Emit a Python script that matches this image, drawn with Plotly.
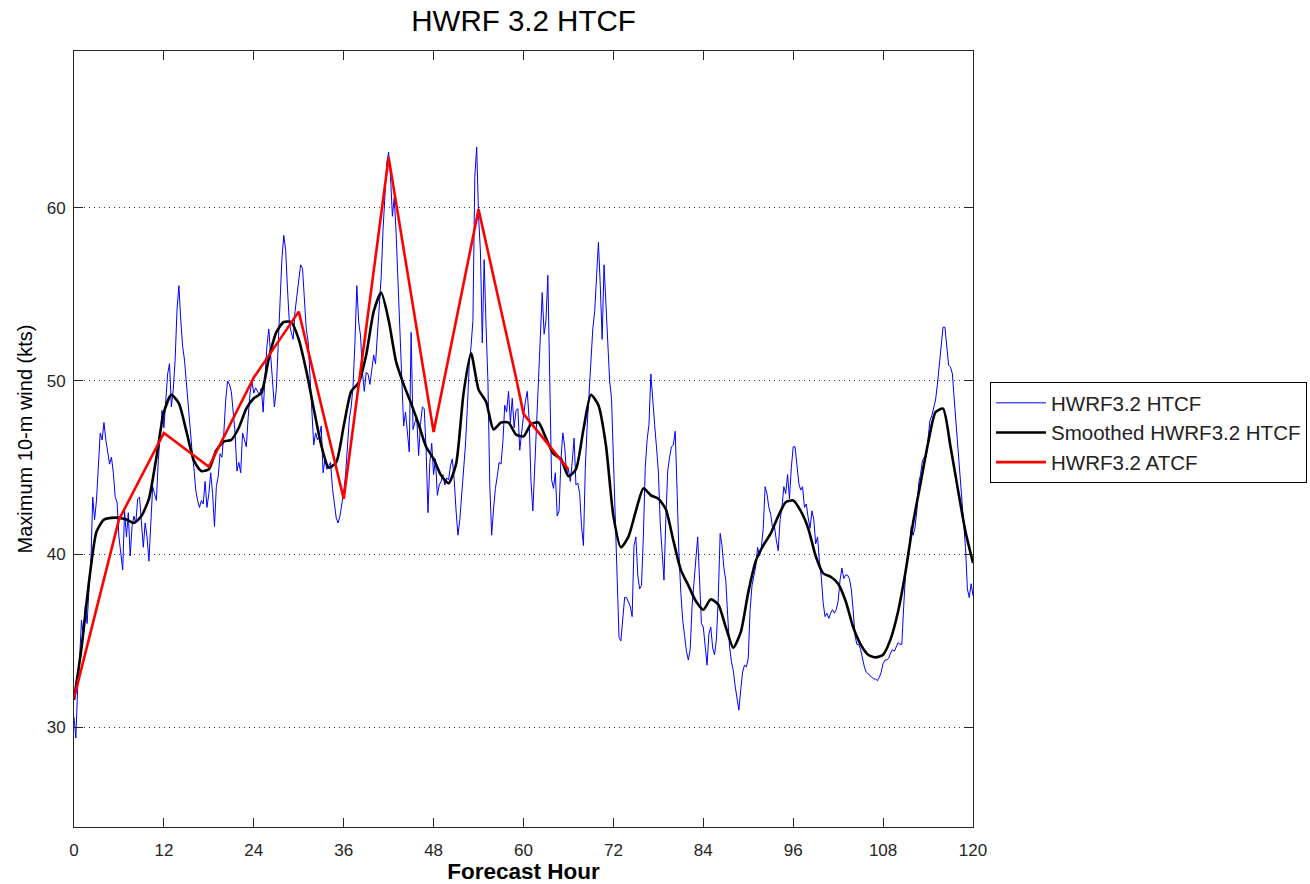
import numpy as np
import plotly.graph_objects as go

# ---------------- data ----------------
blue_step = 0.25
blue_vals = [
    30.6, 29.4, 32.5, 34.0,   # 0
    36.2, 35.3, 37.0, 36.0,   # 1
    38.0, 39.5, 43.3, 42.0,   # 2
    43.1, 44.8, 47.0, 46.6,   # 3
    47.6, 46.6, 46.0, 45.2,   # 4
    45.6, 44.7, 43.3, 43.0,   # 5
    41.0, 40.0, 39.1, 42.5,   # 6
    41.0, 42.4, 39.9, 41.6,   # 7
    42.2, 41.8, 43.2, 43.3,   # 8
    41.6, 40.4, 41.8, 41.0,   # 9
    39.6, 41.5, 43.9, 43.5,   # 10
    43.1, 45.4, 47.0, 48.3,   # 11
    47.3, 48.9, 50.4, 51.0,   # 12
    48.5, 49.5, 51.2, 54.1,   # 13
    55.5, 53.5, 52.0, 51.2,   # 14
    49.9, 48.3, 47.5, 46.0,   # 15
    45.0, 43.7, 43.1, 42.7,   # 16
    43.1, 42.9, 44.2, 42.7,   # 17
    43.5, 44.7, 43.5, 41.6,   # 18
    43.9, 44.5, 45.8, 45.6,   # 19
    47.0, 48.9, 50.0, 49.8,   # 20
    49.4, 48.0, 47.0, 44.8,   # 21
    45.3, 44.7, 47.0, 46.6,   # 22
    46.2, 47.9, 49.3, 50.0,   # 23
    49.3, 49.6, 49.4, 49.2,   # 24
    49.6, 48.2, 50.3, 52.0,   # 25
    53.0, 51.5, 49.6, 48.5,   # 26
    49.5, 52.0, 55.1, 57.0,   # 27
    58.4, 57.6, 55.3, 53.3,   # 28
    52.8, 52.4, 54.0, 54.8,   # 29
    55.7, 56.7, 56.5, 55.0,   # 30
    53.0, 52.3, 50.3, 48.4,   # 31
    46.3, 47.0, 46.6, 46.8,   # 32
    47.4, 44.7, 45.5, 44.9,   # 33
    45.1, 45.3, 43.8, 42.8,   # 34
    42.1, 41.8, 42.2, 42.9,   # 35
    43.6, 44.6, 46.5, 47.8,   # 36
    48.5, 49.7, 52.2, 55.5,   # 37
    53.4, 52.6, 50.5, 49.4,   # 38
    50.5, 50.4, 49.8, 50.8,   # 39
    51.5, 51.0, 52.6, 54.3,   # 40
    56.0, 58.7, 60.8, 62.6,   # 41
    63.2, 61.8, 59.5, 60.6,   # 42
    58.5, 55.8, 53.2, 49.5,   # 43
    47.4, 48.2, 47.0, 45.9,   # 44
    52.8, 47.2, 47.6, 47.9,   # 45
    45.7, 47.5, 48.5, 48.4,   # 46
    46.0, 42.4, 45.3, 46.4,   # 47
    44.6, 45.5, 43.4, 44.0,   # 48
    44.2, 44.6, 44.0, 44.4,   # 49
    44.3, 45.1, 45.5, 44.3,   # 50
    42.5, 41.1, 42.0, 43.4,   # 51
    45.1, 46.3, 48.4, 50.9,   # 52
    52.0, 53.5, 61.8, 63.5,   # 53
    59.5, 57.5, 52.2, 57.0,   # 54
    53.2, 50.0, 44.0, 41.1,   # 55
    42.6, 43.8, 44.5, 45.3,   # 56
    45.2, 46.5, 48.6, 48.2,   # 57
    49.4, 47.6, 49.0, 47.3,   # 58
    48.3, 48.4, 46.0, 47.2,   # 59
    48.0, 48.8, 49.4, 47.8,   # 60
    44.2, 42.5, 44.9, 47.0,   # 61
    49.6, 52.0, 55.1, 52.7,   # 62
    53.5, 56.1, 50.0, 44.3,   # 63
    43.8, 44.7, 42.2, 42.5,   # 64
    45.5, 47.0, 46.2, 44.6,   # 65
    44.9, 44.2, 45.3, 46.7,   # 66
    44.0, 44.1, 43.5, 41.6,   # 67
    40.5, 45.0, 47.4, 49.4,   # 68
    51.3, 53.0, 54.0, 55.9,   # 69
    58.0, 55.5, 52.4, 56.7,   # 70
    54.5, 53.0, 50.0, 49.0,   # 71
    45.5, 41.0, 37.9, 35.2,   # 72
    35.0, 36.5, 37.5, 37.5,   # 73
    37.2, 37.0, 36.4, 40.5,   # 74
    41.0, 38.8, 38.0, 38.2,   # 75
    41.0, 45.0, 46.6, 47.5,   # 76
    50.4, 48.7, 47.5, 46.2,   # 77
    44.8, 41.8, 39.8, 38.5,   # 78
    42.0, 44.8, 45.6, 46.2,   # 79
    46.3, 47.1, 43.7, 40.0,   # 80
    37.8, 36.2, 35.3, 34.4,   # 81
    33.9, 34.5, 37.0, 38.5,   # 82
    40.0, 41.0, 38.5, 36.0,   # 83
    35.8, 34.5, 33.6, 35.4,   # 84
    35.8, 34.6, 34.2, 35.1,   # 85
    37.5, 41.2, 40.5, 39.2,   # 86
    38.5, 36.5, 34.7, 33.8,   # 87
    33.3, 32.4, 31.8, 31.0,   # 88
    32.2, 33.2, 33.6, 33.5,   # 89
    34.0, 36.8, 38.2, 38.8,   # 90
    39.3, 40.4, 39.9, 40.4,   # 91
    41.5, 43.9, 43.5, 42.7,   # 92
    42.3, 41.5, 41.6, 40.8,   # 93
    40.2, 42.0, 42.7, 43.9,   # 94
    43.5, 44.6, 43.2, 45.0,   # 95
    46.2, 46.2, 45.1, 44.1,   # 96
    43.7, 43.9, 42.7, 42.9,   # 97
    42.1, 41.5, 42.5, 42.0,   # 98
    40.6, 41.0, 39.6, 38.7,   # 99
    37.2, 36.4, 36.6, 36.3,   # 100
    36.6, 36.8, 36.6, 36.8,   # 101
    37.3, 38.5, 39.2, 38.6,   # 102
    38.8, 38.8, 38.6, 38.0,   # 103
    36.8, 35.3, 34.8, 34.8,   # 104
    34.5, 33.9, 33.5, 33.2,   # 105
    33.1, 33.0, 32.9, 32.8,   # 106
    32.8, 32.7, 32.9, 33.2,   # 107
    33.7, 33.9, 33.9, 34.0,   # 108
    34.3, 34.5, 34.4, 34.7,   # 109
    34.9, 34.8, 34.8, 37.0,   # 110
    38.9, 39.8, 40.4, 41.6,   # 111
    41.1, 41.5, 42.5, 44.1,   # 112
    44.6, 45.4, 45.6, 45.6,   # 113
    46.9, 47.7, 48.0, 48.5,   # 114
    48.9, 49.8, 50.8, 52.0,   # 115
    53.1, 53.1, 52.0, 50.9,   # 116
    50.8, 50.4, 48.9, 47.5,   # 117
    45.8, 44.3, 43.4, 41.9,   # 118
    40.4, 38.0, 37.5, 38.3,   # 119
    37.6,                     # 120
]
blue_hours = [i * blue_step for i in range(len(blue_vals))]

# Smoothed HWRF3.2 HTCF, hourly
smooth_hours = list(range(0, 121))
smooth_vals = [
    31.6, 34.6, 38.4, 41.3, 42.0, 42.1, 42.1, 42.0, 41.8, 42.2,   # 0-9
    43.2, 45.6, 48.2, 49.2, 48.7, 47.1, 45.4, 44.8, 44.9, 46.0,   # 10-19
    46.5, 46.6, 47.3, 48.4, 49.0, 49.3, 51.3, 52.8, 53.4, 53.4,   # 20-29
    52.4, 50.6, 48.4, 46.3, 45.0, 45.3, 47.4, 49.4, 49.9, 51.5,   # 30-39
    54.0, 55.1, 53.5, 51.1, 49.8, 48.7, 47.5, 46.2, 45.5, 44.55,  # 40-49
    44.1, 45.2, 49.3, 51.6, 49.5, 48.8, 47.2, 47.6, 47.6, 46.9,   # 50-59
    46.8, 47.5, 47.6, 46.7, 45.8, 45.5, 44.5, 44.9, 47.2, 49.2,   # 60-69
    48.6, 46.3, 42.2, 40.4, 41.0, 42.5, 43.8, 43.4, 43.2, 42.6,   # 70-79
    40.8, 39.1, 38.2, 37.3, 36.8, 37.4, 37.1, 35.8, 34.6, 35.5,   # 80-89
    37.8, 39.6, 40.5, 41.2, 42.2, 43.0, 43.1, 42.5, 41.5, 39.9,   # 90-99
    38.9, 38.7, 38.3, 37.3, 35.8, 34.8, 34.2, 34.05, 34.2, 35.1,  # 100-109
    36.7, 39.0, 41.8, 44.1, 46.4, 48.2, 48.4, 46.2, 43.7, 41.3,   # 110-119
    39.5,                                                         # 120
]

# HWRF3.2 ATCF
atcf_hours = [0, 6, 12, 18, 24, 30, 36, 42, 48, 54, 59, 60, 66]
atcf_vals = [31.7, 42.0, 47.0, 45.05, 50.2, 54.0, 43.2, 62.9, 47.05, 59.9, 50.2, 48.1, 44.9]

x_ticks = [0, 12, 24, 36, 48, 60, 72, 84, 96, 108, 120]
y_ticks = [30, 40, 50, 60]

names = ["HWRF3.2 HTCF", "Smoothed HWRF3.2 HTCF", "HWRF3.2 ATCF"]

FONT = "Liberation Sans, Arial, Helvetica, sans-serif"

# ---------------- figure ----------------
fig = go.Figure()
fig.add_trace(go.Scatter(x=blue_hours, y=blue_vals, mode="lines", name=names[0],
                         line=dict(color="#0000ff", width=1), legendgroup="a"))
fig.add_trace(go.Scatter(x=smooth_hours, y=smooth_vals, mode="lines", name=names[1],
                         line=dict(color="#000000", width=2.6, shape="spline", smoothing=0.6),
                         legendgroup="b"))
fig.add_trace(go.Scatter(x=atcf_hours, y=atcf_vals, mode="lines", name=names[2],
                         line=dict(color="#ff0000", width=2.6), legendgroup="c"))

axis_common = dict(
    showline=True, linecolor="#262626", linewidth=1, mirror="allticks",
    ticks="inside", ticklen=9, tickwidth=1, tickcolor="#262626",
    tickfont=dict(family=FONT, size=17, color="#262626"),
    zeroline=False, automargin=False,
)

fig.update_layout(
    width=1310, height=884,
    margin=dict(l=74, r=337, t=51, b=57, autoexpand=False),
    paper_bgcolor="white", plot_bgcolor="white",
    font=dict(family=FONT, color="#000000"),
    title=dict(text="HWRF 3.2 HTCF", x=0.5, xref="paper", xanchor="center",
               y=1 - 21 / 884, yref="container", yanchor="middle",
               font=dict(family=FONT, size=29.5, color="#000000")),
    xaxis=dict(range=[0, 120], tickmode="array", tickvals=x_ticks,
               ticktext=[str(v) for v in x_ticks], showgrid=False,
               ticklabelstandoff=8,
               title=dict(text="<b>Forecast Hour</b>", standoff=12,
                          font=dict(family=FONT, size=22.5, color="#000000")),
               **axis_common),
    yaxis=dict(range=[24.26, 69.04], tickmode="array", tickvals=y_ticks,
               ticktext=[str(v) for v in y_ticks], showgrid=True,
               gridcolor="#333333", gridwidth=1, griddash="1px,4px",
               ticklabelstandoff=4,
               title=dict(text="Maximum 10-m wind (kts)", standoff=8,
                          font=dict(family=FONT, size=20, color="#000000")),
               **axis_common),
    legend=dict(x=(990 - 74) / 899, xanchor="left", y=(827 - 382) / 776, yanchor="top",
                bordercolor="#000000", borderwidth=1, bgcolor="white",
                font=dict(family=FONT, size=20.5, color="#222222"),
                itemwidth=50, tracegroupgap=9, traceorder="normal"),
    showlegend=True,
)

fig.write_html("out.html")
